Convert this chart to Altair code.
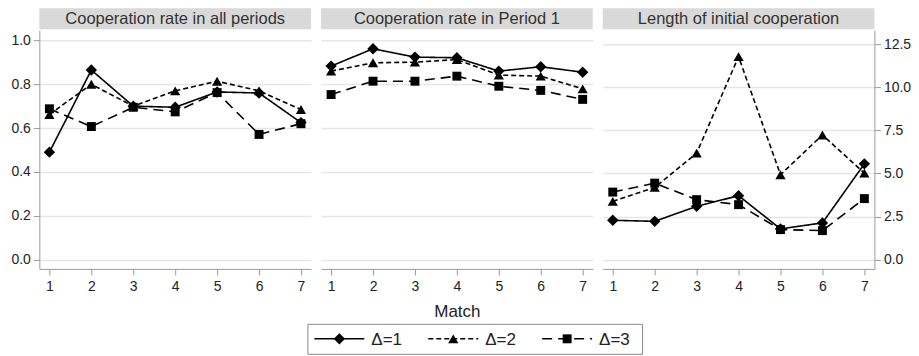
import altair as alt
import pandas as pd

matches = [1, 2, 3, 4, 5, 6, 7]
series = ["Δ=1", "Δ=2", "Δ=3"]

# Cooperation rate in all periods
all_d1 = [0.49, 0.865, 0.70, 0.695, 0.765, 0.76, 0.625]
all_d2 = [0.662, 0.80, 0.70, 0.77, 0.814, 0.77, 0.685]
all_d3 = [0.688, 0.607, 0.695, 0.674, 0.762, 0.571, 0.62]

# Cooperation rate in Period 1
p1_d1 = [0.883, 0.962, 0.924, 0.921, 0.86, 0.88, 0.855]
p1_d2 = [0.86, 0.898, 0.901, 0.913, 0.842, 0.837, 0.779]
p1_d3 = [0.753, 0.814, 0.814, 0.837, 0.791, 0.772, 0.731]

# Length of initial cooperation
len_d1 = [2.28, 2.22, 3.09, 3.71, 1.78, 2.13, 5.56]
len_d2 = [3.38, 4.19, 6.18, 11.79, 4.93, 7.24, 5.02]
len_d3 = [3.92, 4.44, 3.48, 3.19, 1.74, 1.68, 3.54]

panel_titles = ["Cooperation rate in all periods",
                "Cooperation rate in Period 1",
                "Length of initial cooperation"]
rate_ticks = [0.0, 0.2, 0.4, 0.6, 0.8, 1.0]
len_ticks = [0.0, 2.5, 5.0, 7.5, 10.0, 12.5]

FONT = "Liberation Sans"
W, H = 272, 239
AXIS_GRAY = "#9a9a9a"
GRID_GRAY = "#e6e6e6"


def make_df(d1, d2, d3):
    rows = []
    for s, vals in zip(series, [d1, d2, d3]):
        for m, v in zip(matches, vals):
            rows.append({"match": m, "value": v, "series": s})
    return pd.DataFrame(rows)


def panel(df, title, ydomain, yticks, yorient, show_y, xtitle):
    xenc = alt.X(
        "match:Q",
        scale=alt.Scale(domain=[0.76, 7.24], nice=False, zero=False),
        axis=alt.Axis(values=matches, format="d", title=xtitle if xtitle else None,
                      grid=False, domainColor=AXIS_GRAY, tickColor=AXIS_GRAY,
                      tickSize=6, labelFontSize=14, labelColor="#222",
                      labelFont=FONT, labelPadding=5, titleFont=FONT,
                      titleFontSize=17, titleFontWeight="normal",
                      titleColor="#222", titlePadding=10),
    )
    if show_y:
        yaxis = alt.Axis(values=yticks, format=".1f", title=None, orient=yorient,
                         grid=True, gridColor=GRID_GRAY, gridWidth=1.5,
                         domainColor=AXIS_GRAY, tickColor=AXIS_GRAY, tickSize=6,
                         labelFontSize=14, labelColor="#222", labelFont=FONT,
                         labelPadding=3)
    else:
        yaxis = alt.Axis(values=yticks, title=None, grid=True, gridColor=GRID_GRAY,
                         gridWidth=1.5, labels=False, ticks=False, domain=False)
    yenc = alt.Y("value:Q", scale=alt.Scale(domain=ydomain, nice=False, zero=False),
                 axis=yaxis)
    base = alt.Chart(df)
    lines = base.mark_line(color="black", strokeWidth=1.6).encode(
        x=xenc, y=yenc,
        strokeDash=alt.StrokeDash("series:N",
                                  scale=alt.Scale(domain=series,
                                                  range=[[1, 0], [5, 3], [10, 6]]),
                                  legend=None),
        detail="series:N",
    )
    pts = base.mark_point(filled=True, color="black", opacity=1).encode(
        x=xenc, y=yenc,
        shape=alt.Shape("series:N",
                        scale=alt.Scale(domain=series,
                                        range=["diamond", "triangle-up", "square"]),
                        legend=None),
        size=alt.Size("series:N",
                      scale=alt.Scale(domain=series, range=[130, 80, 75]),
                      legend=None),
    )
    tdf = pd.DataFrame({"t": [title]})
    header = alt.Chart(tdf).mark_rect(color="#d9d9d9").encode(
        x=alt.value(0), x2=alt.value(W), y=alt.value(-22), y2=alt.value(-1))
    htext = alt.Chart(tdf).mark_text(font=FONT, fontSize=16.5, color="#333",
                                     baseline="middle").encode(
        x=alt.value(W / 2), y=alt.value(-11), text="t:N")
    return alt.layer(header, htext, lines, pts).properties(width=W, height=H)


p1 = panel(make_df(all_d1, all_d2, all_d3), panel_titles[0], [-0.043, 1.047],
           rate_ticks, "left", True, None)
p2 = panel(make_df(p1_d1, p1_d2, p1_d3), panel_titles[1], [-0.043, 1.047],
           rate_ticks, "left", False, "Match")
p3 = panel(make_df(len_d1, len_d2, len_d3), panel_titles[2], [-0.545, 13.33],
           len_ticks, "right", True, None)

top = alt.hconcat(p1, p2, p3, spacing=10)

# legend
leg = pd.DataFrame({"series": series, "idx": [0, 1, 2]})
lbase = alt.Chart(leg).transform_calculate(
    x0="7 + datum.idx * 114",
    x1="57 + datum.idx * 114",
    xm="32 + datum.idx * 114",
    xt="64 + datum.idx * 114",
)
LW, LH = 335, 30
lx = lambda f: alt.X(f, scale=alt.Scale(domain=[0, LW], nice=False, zero=False), axis=None)
lrule = lbase.mark_rule(color="black", strokeWidth=1.6).encode(
    x=lx("x0:Q"), x2="x1:Q", y=alt.value(LH / 2),
    strokeDash=alt.StrokeDash("series:N",
                              scale=alt.Scale(domain=series,
                                              range=[[1, 0], [5, 3], [10, 6]]),
                              legend=None),
)
lpts = lbase.mark_point(filled=True, color="black", opacity=1).encode(
    x=lx("xm:Q"), y=alt.value(LH / 2),
    shape=alt.Shape("series:N",
                    scale=alt.Scale(domain=series,
                                    range=["diamond", "triangle-up", "square"]),
                    legend=None),
    size=alt.Size("series:N", scale=alt.Scale(domain=series, range=[110, 65, 60]),
                  legend=None),
)
ltext = lbase.mark_text(font=FONT, fontSize=17, color="#222", align="left",
                        baseline="middle").encode(
    x=lx("xt:Q"), y=alt.value(LH / 2 + 1), text="series:N")
legend = alt.layer(lrule, lpts, ltext).properties(
    width=LW, height=LH, view=alt.ViewBackground(stroke="#888", strokeWidth=1))

chart = alt.vconcat(top, legend, spacing=3, center=True).properties(
    padding={"left": 2, "top": 0, "right": 0, "bottom": 0}
).configure_view(stroke=None)

chart.save("out.html", embed_options={"renderer": "svg", "actions": False})
